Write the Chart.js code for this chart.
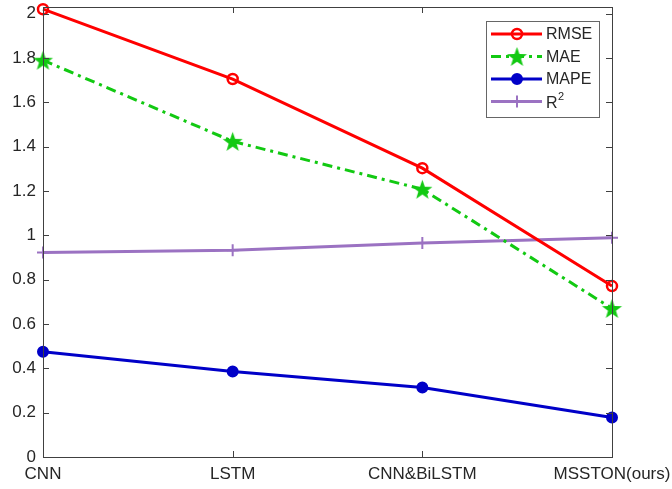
<!DOCTYPE html>
<html>
<head>
<meta charset="utf-8">
<script src="https://cdn.jsdelivr.net/npm/chart.js@4.4.1/dist/chart.umd.min.js"></script>
<style>
    html, body { margin: 0; padding: 0; background: #fff; }
    #wrap { width: 672px; height: 489px; }
</style>
</head>
<body>
<div id="wrap"><canvas id="chart"></canvas></div>
<script>
// Values.
const categories = ['CNN', 'LSTM', 'CNN&BiLSTM', 'MSSTON(ours)'];
const rmseValues = [2.02, 1.705, 1.303, 0.771];
const maeValues  = [1.79, 1.424, 1.208, 0.670];
const mapeValues = [0.475, 0.386, 0.314, 0.178];
const r2Values   = [0.923, 0.933, 0.965, 0.989];
const yTicks = [0, 0.2, 0.4, 0.6, 0.8, 1, 1.2, 1.4, 1.6, 1.8, 2];

const AXIS_COLOR = '#404040';
const TEXT_COLOR = '#262626';
const FONT = 'Liberation Sans, Arial, sans-serif';

// Filled five-point star (MATLAB pentagram) as an image point style.
function makeStar(color, outer, inner) {
    const size = Math.ceil(outer * 2 + 2);
    const c = document.createElement('canvas');
    c.width = size; c.height = size;
    const g = c.getContext('2d');
    const cx = size / 2, cy = size / 2 + 1;
    g.beginPath();
    for (let i = 0; i < 10; i++) {
        const r = i % 2 === 0 ? outer : inner;
        const ang = -Math.PI / 2 + i * Math.PI / 5;
        const x = cx + r * Math.cos(ang), y = cy + r * Math.sin(ang);
        if (i === 0) g.moveTo(x, y); else g.lineTo(x, y);
    }
    g.closePath();
    g.fillStyle = color;
    g.fill();
    return c;
}

const series = [
    { label: 'RMSE', data: rmseValues, color: '#ff0000', point: 'circle', radius: 5, filled: false, dash: [] },
    { label: 'MAE',  data: maeValues,  color: '#12c912', point: makeStar('#12c912', 10.5, 4.2), radius: 10, filled: true, dash: [10, 5, 3, 5] },
    { label: 'MAPE', data: mapeValues, color: '#0000c8', point: 'circle', radius: 5, filled: true,  dash: [] },
    { label: 'R2',   data: r2Values,   color: '#9b72c2', point: 'cross',  radius: 6, filled: true,  dash: [] }
];

const datasets = series.map(s => ({
    label: s.label,
    data: s.data,
    borderColor: s.color,
    backgroundColor: s.filled ? s.color : '#ffffff',
    borderWidth: 3,
    borderDash: s.dash,
    pointStyle: s.point,
    pointRadius: s.radius,
    pointBorderWidth: s.point === 'circle' && !s.filled ? 2.5 : 2,
    pointBackgroundColor: s.filled ? s.color : 'rgba(0,0,0,0)',
    pointBorderColor: s.color,
    tension: 0,
    fill: false,
    clip: false
}));

// MATLAB-style box with inward ticks on all four sides.
const boxPlugin = {
    id: 'box',
    afterDraw(chart) {
        const { ctx, chartArea: a, scales } = chart;
        ctx.save();
        ctx.strokeStyle = AXIS_COLOR;
        ctx.lineWidth = 1;
        ctx.strokeRect(a.left + 0.5, a.top + 0.5, a.right - a.left, a.bottom - a.top);
        const len = 6;
        ctx.beginPath();
        yTicks.forEach(v => {
            const y = Math.round(scales.y.getPixelForValue(v)) + 0.5;
            ctx.moveTo(a.left, y); ctx.lineTo(a.left + len, y);
            ctx.moveTo(a.right, y); ctx.lineTo(a.right - len, y);
        });
        categories.forEach((c, i) => {
            const x = Math.round(scales.x.getPixelForValue(i)) + 0.5;
            ctx.moveTo(x, a.bottom); ctx.lineTo(x, a.bottom - len);
            ctx.moveTo(x, a.top); ctx.lineTo(x, a.top + len);
        });
        ctx.stroke();
        ctx.restore();
    }
};

// Legend with line + marker samples, R² drawn with a superscript.
const legendPlugin = {
    id: 'lineLegend',
    afterDraw(chart) {
        const { ctx } = chart;
        const bx = 486, by = 21, bw = 113, bh = 96;
        ctx.save();
        ctx.fillStyle = '#ffffff';
        ctx.fillRect(bx, by, bw, bh);
        ctx.strokeStyle = '#666666';
        ctx.lineWidth = 1;
        ctx.strokeRect(bx + 0.5, by + 0.5, bw, bh);
        chart.data.datasets.forEach((ds, i) => {
            const y = by + 13 + i * 22.5;
            const meta = chart.getDatasetMeta(i);
            ctx.strokeStyle = ds.borderColor;
            ctx.lineWidth = 3;
            ctx.setLineDash(ds.borderDash);
            ctx.beginPath();
            ctx.moveTo(bx + 5, y);
            ctx.lineTo(bx + 56, y);
            ctx.stroke();
            ctx.setLineDash([]);
            const pt = meta.data[0].options;
            ctx.fillStyle = pt.backgroundColor;
            ctx.strokeStyle = pt.borderColor;
            ctx.lineWidth = pt.borderWidth;
            Chart.helpers.drawPoint(ctx, {
                pointStyle: pt.pointStyle,
                radius: pt.radius,
                borderWidth: pt.borderWidth,
                rotation: 0
            }, bx + 31, y);
            ctx.fillStyle = TEXT_COLOR;
            ctx.textBaseline = 'middle';
            ctx.font = '16px ' + FONT;
            if (ds.label === 'R2') {
                ctx.fillText('R', bx + 60, y + 2);
                ctx.font = '11px ' + FONT;
                ctx.fillText('2', bx + 72, y - 5);
            } else {
                ctx.fillText(ds.label, bx + 60, y + 1);
            }
        });
        ctx.restore();
    }
};

new Chart(document.getElementById('chart'), {
    type: 'line',
    data: { labels: categories, datasets },
    plugins: [boxPlugin, legendPlugin],
    options: {
        responsive: true,
        maintainAspectRatio: false,
        animation: false,
        layout: { autoPadding: false, padding: { top: 7, right: 60, left: 0, bottom: 0 } },
        plugins: { legend: { display: false }, tooltip: { enabled: false } },
        scales: {
            x: {
                type: 'category',
                offset: false,
                grid: { display: false, drawTicks: false },
                border: { display: false },
                ticks: { color: TEXT_COLOR, font: { family: FONT, size: 17 }, padding: 7, maxRotation: 0, autoSkip: false },
                afterFit(scale) { scale.height = 32; scale.paddingLeft = 0; scale.paddingRight = 0; }
            },
            y: {
                min: 0,
                max: 2.03,
                grid: { display: false, drawTicks: false },
                border: { display: false },
                afterBuildTicks(scale) { scale.ticks = yTicks.map(v => ({ value: v })); },
                ticks: {
                    color: TEXT_COLOR,
                    font: { family: FONT, size: 17, lineHeight: 0.4 },
                    padding: 7,
                    callback: v => String(Math.round(v * 10) / 10)
                },
                afterFit(scale) { scale.width = 43; scale.paddingTop = 0; scale.paddingBottom = 0; }
            }
        }
    }
});
</script>
</body>
</html>
